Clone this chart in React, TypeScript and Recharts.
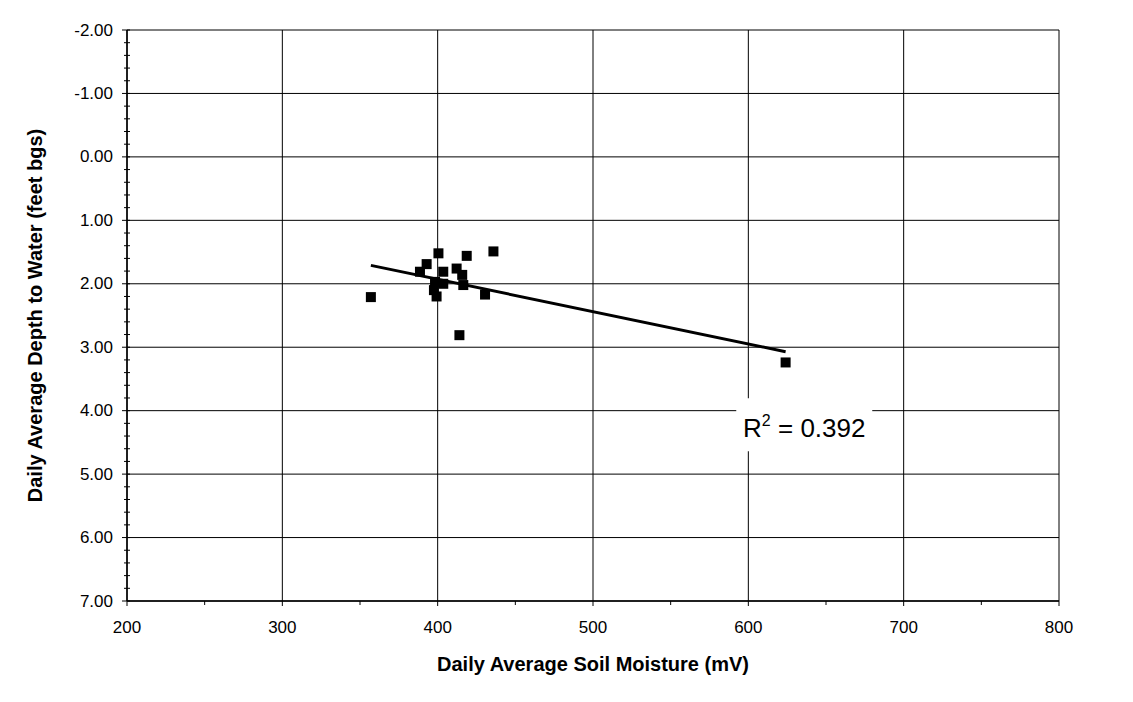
import { ScatterChart, Scatter, XAxis, YAxis, ReferenceLine, ReferenceDot } from "recharts";

// soil moisture (mV) vs depth to water (feet bgs)
const moisture = [357, 388.6, 392.9, 400.5, 403.6, 412.2, 415.8, 418.7, 435.9, 398.3, 403.6, 397.6, 399.3, 416.5, 430.5, 414, 624];
const depth = [2.21, 1.81, 1.69, 1.52, 1.81, 1.76, 1.86, 1.56, 1.49, 1.97, 2.0, 2.1, 2.2, 2.02, 2.17, 2.81, 3.24];

// linear trend as drawn (end points)
const trendX = [357, 624];
const trendY = [1.71, 3.07];

const xMajor = [200, 300, 400, 500, 600, 700, 800];
const yMajor = [-2, -1, 0, 1, 2, 3, 4, 5, 6, 7];
const xMinorPerMajor = 2;
const yMinorPerMajor = 5;

const rSquared = "0.392";
const rLabelAt = { x: 636, y: 4.23 };

const points = moisture.map((x, i) => ({ x, y: depth[i] }));

function withMinors(major: number[], parts: number) {
  const out: number[] = [];
  major.forEach((v, i) => {
    out.push(v);
    if (i < major.length - 1) {
      const step = (major[i + 1] - v) / parts;
      for (let k = 1; k < parts; k++) out.push(+(v + step * k).toFixed(4));
    }
  });
  return out;
}

const xTicks = withMinors(xMajor, xMinorPerMajor);
const yTicks = withMinors(yMajor, yMinorPerMajor);

const FONT = '"Liberation Sans", Arial, sans-serif';

function XTick(props: any) {
  const { x, y, payload } = props;
  const major = xMajor.includes(payload.value);
  return (
    <g>
      <line x1={x} x2={x} y1={y} y2={y + (major ? 5 : 4)} stroke="#000" strokeWidth={1} />
      {major && (
        <text x={x} y={y + 32} textAnchor="middle" fontSize={17} fontFamily={FONT} fill="#000">
          {payload.value}
        </text>
      )}
    </g>
  );
}

function YTick(props: any) {
  const { x, y, payload } = props;
  const major = yMajor.includes(payload.value);
  return (
    <g>
      <line x1={x - (major ? 5 : 3)} x2={x + 3} y1={y} y2={y} stroke="#000" strokeWidth={1} />
      {major && (
        <text x={x - 14} y={y} textAnchor="end" dominantBaseline="central" fontSize={17} fontFamily={FONT} fill="#000">
          {payload.value.toFixed(2)}
        </text>
      )}
    </g>
  );
}

function SquareDot(props: any) {
  const { cx, cy } = props;
  return <rect x={cx - 5} y={cy - 5} width={10} height={10} fill="#000" />;
}

function RBox(props: any) {
  const { cx, cy } = props;
  return (
    <g>
      <rect x={cx - 68} y={cy - 27} width={136} height={53} fill="#fff" />
      <text x={cx} y={cy + 12} textAnchor="middle" fontSize={26} fontFamily={FONT} fill="#000">
        R<tspan fontSize={16} dy={-11}>2</tspan>
        <tspan dy={11}> = {rSquared}</tspan>
      </text>
    </g>
  );
}

function XTitle(props: any) {
  const { viewBox } = props;
  return (
    <text x={viewBox.x + viewBox.width / 2} y={viewBox.y + 70} textAnchor="middle" fontSize={20} fontWeight="bold" fontFamily={FONT} fill="#000">
      Daily Average Soil Moisture (mV)
    </text>
  );
}

function YTitle(props: any) {
  const { viewBox } = props;
  const cx = viewBox.x + 8;
  const cy = viewBox.y + viewBox.height / 2;
  return (
    <text x={cx} y={cy} transform={`rotate(-90 ${cx} ${cy})`} textAnchor="middle" dominantBaseline="central" fontSize={20} fontWeight="bold" fontFamily={FONT} fill="#000">
      Daily Average Depth to Water (feet bgs)
    </text>
  );
}

export default function App() {
  return (
    <div style={{ margin: -8, width: 1133, height: 702, position: "relative", background: "#fff", overflow: "hidden" }}>
      <div style={{ position: "absolute", left: 6, top: 6, width: 1140, height: 710, borderTop: "1.5px solid #333", borderLeft: "1.5px solid #333" }} />
      <ScatterChart width={1133} height={702} margin={{ top: 30, right: 74, bottom: 61, left: 27 }}>
        <XAxis
          type="number"
          dataKey="x"
          domain={[200, 800]}
          ticks={xTicks}
          interval={0}
          tickSize={0}
          tickMargin={0}
          tick={<XTick />}
          tickLine={false}
          axisLine={{ stroke: "#000", strokeWidth: 1.5 }}
          height={40}
          label={<XTitle />}
        />
        <YAxis
          type="number"
          dataKey="y"
          domain={[-2, 7]}
          reversed
          ticks={yTicks}
          interval={0}
          tickSize={0}
          tickMargin={0}
          tick={<YTick />}
          tickLine={false}
          axisLine={{ stroke: "#000", strokeWidth: 1.5 }}
          width={100}
          label={<YTitle />}
        />
        {xMajor.map((v) => (
          <ReferenceLine key={"gx" + v} x={v} stroke="#000" strokeWidth={1} />
        ))}
        {yMajor.map((v) => (
          <ReferenceLine key={"gy" + v} y={v} stroke="#000" strokeWidth={1} />
        ))}
        <Scatter data={points} shape={<SquareDot />} isAnimationActive={false} />
        <ReferenceLine
          segment={[
            { x: trendX[0], y: trendY[0] },
            { x: trendX[1], y: trendY[1] },
          ]}
          stroke="#000"
          strokeWidth={3}
        />
        <ReferenceDot x={rLabelAt.x} y={rLabelAt.y} r={0} shape={<RBox />} zIndex={1500} />
      </ScatterChart>
    </div>
  );
}
